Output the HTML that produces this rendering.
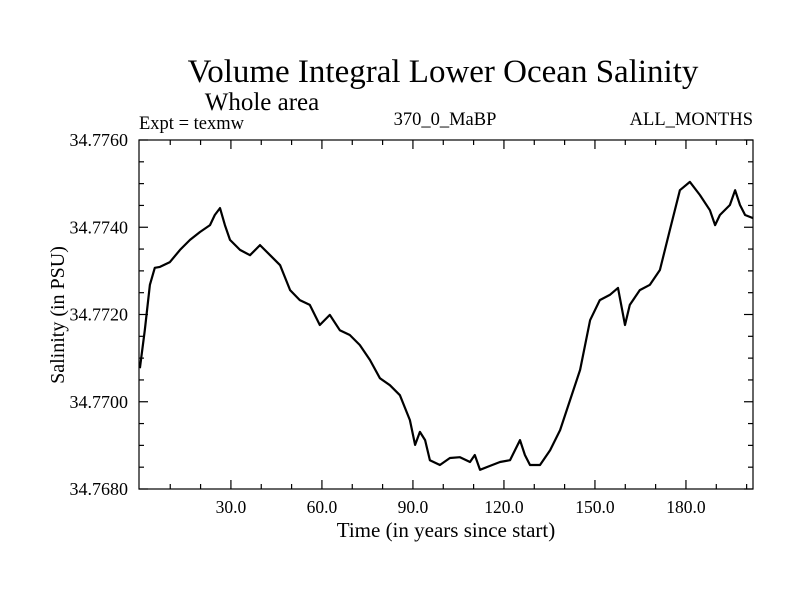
<!DOCTYPE html>
<html><head><meta charset="utf-8"><style>
body{margin:0;background:#fff}
svg text{font-family:"Liberation Serif",serif;fill:#000}
</style></head><body>
<svg id="chart" width="800" height="600">
<text x="443" y="82" font-size="33" text-anchor="middle">Volume Integral Lower Ocean Salinity</text>
<text x="262" y="110" font-size="25" text-anchor="middle">Whole area</text>
<text x="139" y="129" font-size="18.5">Expt = texmw</text>
<text x="445" y="125" font-size="18.5" text-anchor="middle">370_0_MaBP</text>
<text x="753" y="125" font-size="18.5" text-anchor="end">ALL_MONTHS</text>
<text x="446" y="537" font-size="21" text-anchor="middle">Time (in years since start)</text>
<text transform="translate(64,315) rotate(-90)" font-size="20" text-anchor="middle">Salinity (in PSU)</text>
<g id="axes"></g>
<path id="line" fill="none" stroke="#000" stroke-width="2.2" stroke-linejoin="round"/>
<rect x="139" y="140" width="614" height="349" fill="none" stroke="#000" stroke-width="1.2"/>
</svg>
<script>
const years=[0,1.6,3.3,4.9,6.6,9.9,13.2,16.5,19.8,23.1,24.7,26.4,28.0,29.7,33.0,36.3,39.6,42.9,46.2,49.5,52.7,56.0,59.3,62.6,65.9,69.2,72.5,75.8,79.1,82.4,85.7,89.0,90.7,92.3,94.0,95.6,98.9,102.2,105.5,108.8,110.4,112.1,115.4,118.7,122.0,125.3,126.9,128.6,131.9,135.2,138.5,141.8,145.1,148.4,151.6,154.9,157.6,159.9,161.5,164.8,168.1,171.4,174.7,178.0,181.3,184.6,187.9,189.6,191.2,194.5,196.2,197.8,199.5,202.1];
const salinity=[34.77077,34.77164,34.77268,34.77307,34.77309,34.77320,34.77348,34.77371,34.77389,34.77405,34.77428,34.77444,34.77405,34.77371,34.77348,34.77336,34.77359,34.77336,34.77313,34.77256,34.77233,34.77222,34.77176,34.77199,34.77164,34.77153,34.77130,34.77096,34.77054,34.77038,34.77015,34.76958,34.76901,34.76931,34.76912,34.76866,34.76855,34.76871,34.76873,34.76862,34.76878,34.76844,34.76853,34.76862,34.76866,34.76912,34.76878,34.76855,34.76855,34.76889,34.76935,34.77004,34.77073,34.77187,34.77233,34.77245,34.77261,34.77176,34.77222,34.77256,34.77268,34.77302,34.77394,34.77485,34.77504,34.77474,34.77439,34.77405,34.77428,34.77451,34.77485,34.77451,34.77428,34.77421];
const xTicks=[30,60,90,120,150,180];
const xTickLabels=["30.0","60.0","90.0","120.0","150.0","180.0"];
const yTicks=[34.768,34.770,34.772,34.774,34.776];
const yTickLabels=["34.7680","34.7700","34.7720","34.7740","34.7760"];
const X0=139,X1=753,Y0=489,Y1=140,xmin=-0.3,xmax=202.1,ymin=34.768,ymax=34.776;
const sx=v=>X0+(v-xmin)/(xmax-xmin)*(X1-X0);
const sy=v=>Y0-(v-ymin)/(ymax-ymin)*(Y0-Y1);
const NS="http://www.w3.org/2000/svg",ax=document.getElementById('axes');
function ln(x1,y1,x2,y2,name){const l=document.createElementNS(NS,'line');l.setAttribute('x1',x1);l.setAttribute('y1',y1);l.setAttribute('x2',x2);l.setAttribute('y2',y2);l.setAttribute('stroke','#000');l.setAttribute('stroke-width','1.2');


ax.appendChild(l);}
function tx(x,y,s,anchor,size,name){const t=document.createElementNS(NS,'text');t.setAttribute('x',x);t.setAttribute('y',y);t.setAttribute('font-size',size);t.setAttribute('text-anchor',anchor);t.textContent=s;


ax.appendChild(t);}
for(let v=10;v<=200;v+=10){const x=sx(v),maj=v%30===0,L=maj?9:5;ln(x,Y0,x,Y0-L,'x-tick');ln(x,Y1,x,Y1+L,'x-tick-top');}
xTicks.forEach((v,i)=>tx(sx(v),Y0+24,xTickLabels[i],'middle','17.5','x-tick-label'));
for(let k=0;k<=16;k++){const v=ymin+k*0.0005,y=sy(v),maj=k%4===0,L=maj?9:5;ln(X0,y,X0+L,y,'y-tick');ln(X1,y,X1-L,y,'y-tick-right');}
yTicks.forEach((v,i)=>tx(128,sy(v)+6,yTickLabels[i],'end','18','y-tick-label'));
document.getElementById('line').setAttribute('d',years.map((y,i)=>(i?'L':'M')+sx(y).toFixed(1)+','+sy(salinity[i]).toFixed(1)).join(''));
</script>
</body></html>
